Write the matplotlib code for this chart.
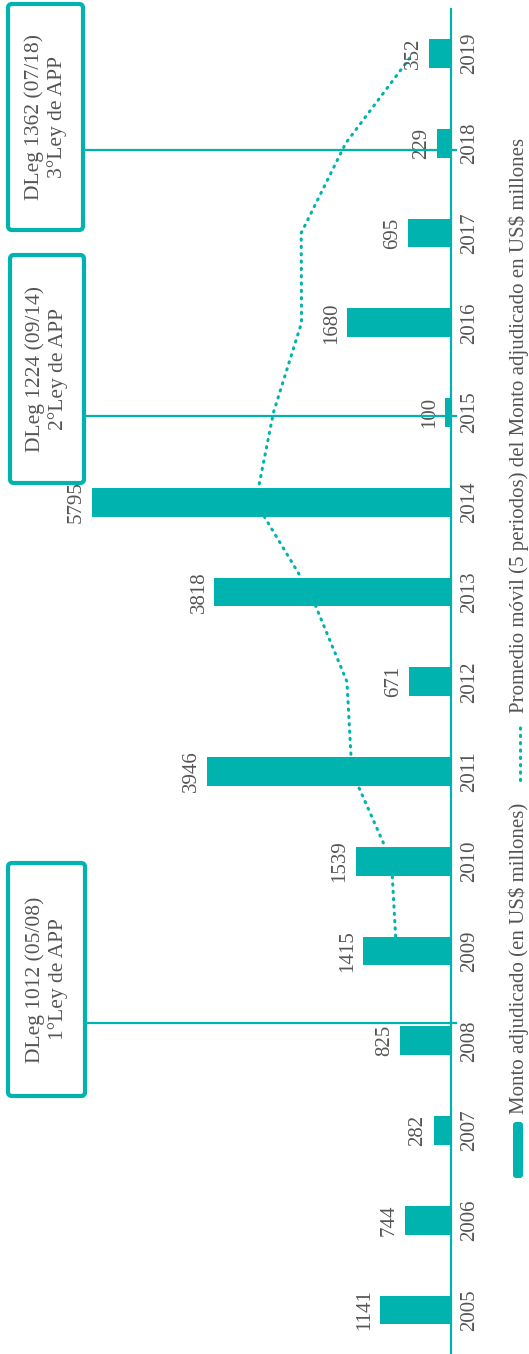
import matplotlib.pyplot as plt
from matplotlib.patches import FancyBboxPatch
from matplotlib.lines import Line2D
from matplotlib.transforms import IdentityTransform

# Data
years = list(range(2005, 2020))
monto = [1141, 744, 282, 825, 1415, 1539, 3946, 671, 3818, 5795, 100, 1680, 695, 229, 352]
ma_years = list(range(2009, 2020))
ma_values = [881, 961, 1601, 1679, 2278, 3154, 2866, 2413, 2418, 1700, 611]
hitos = ['DLeg 1012 (05/08)\n1°Ley de APP',
         'DLeg 1224 (09/14)\n2°Ley de APP',
         'DLeg 1362 (07/18)\n3°Ley de APP']
hito_year = [2008.2, 2014.96, 2017.92]

TEAL = '#00b3ae'
GREY = '#555555'
W, H = 529, 1354

plt.rcParams['font.family'] = ['Liberation Serif', 'DejaVu Serif']
plt.rcParams['font.size'] = 15

fig = plt.figure(figsize=(W / 100, H / 100), dpi=100)
# axis line sits at pixel x=451, top of axis at y=9
ax = fig.add_axes([0, 0, 451 / W, (H - 9) / H])

# bars (horizontal, growing to the left) and moving average
ax.plot(ma_values, ma_years, color=TEAL, lw=2.2, linestyle=(0, (0.4, 2.0)),
        dash_capstyle='round', zorder=2)
ax.barh(years, monto, height=0.32, color=TEAL, zorder=3)

ax.set_xlim(451 / 0.06195, 0)
ax.set_ylim(2004.51, 2019.496)
for s in ['top', 'left', 'bottom']:
    ax.spines[s].set_visible(False)
ax.spines['right'].set_color(TEAL)
ax.spines['right'].set_linewidth(1.6)
ax.set_xticks([])
ax.set_yticks([])

# year labels and value labels
for y, v in zip(years, monto):
    ax.annotate(str(y), (0, y), xytext=(19, 0), textcoords='offset pixels',
                rotation=90, ha='center', va='center', color=GREY,
                annotation_clip=False)
    ax.annotate(str(v), (v, y), xytext=(-6, 0), textcoords='offset pixels',
                rotation=90, ha='right', va='center', color=GREY,
                annotation_clip=False, zorder=4)

# milestone lines and boxes (box extents in pixels: left, top, right, bottom)
boxes = [(8, 863, 85, 1096), (10, 255, 84, 483), (8, 4, 83, 230)]
for txt, hy, (x0, y0, x1, y1) in zip(hitos, hito_year, boxes):
    ax.axhline(hy, xmin=x1 / 451, xmax=1.012, color=TEAL, lw=1.6,
               clip_on=False, zorder=5)
    box = FancyBboxPatch((x0, H - y1), x1 - x0, y1 - y0,
                         boxstyle='round,pad=0,rounding_size=4',
                         transform=IdentityTransform(), facecolor='white',
                         edgecolor=TEAL, lw=3)
    fig.add_artist(box)
    fig.text((x0 + x1) / 2 / W, 1 - (y0 + y1) / 2 / H, txt, rotation=90,
             ha='center', va='center', multialignment='center',
             linespacing=1.2, color=GREY, fontsize=15.5)

# legend
leg = FancyBboxPatch((513, H - 1178), 10, 56, boxstyle='round,pad=0,rounding_size=3',
                     transform=IdentityTransform(), facecolor=TEAL, edgecolor='none')
fig.add_artist(leg)
fig.text(519 / W, 1 - 1114 / H, 'Monto adjudicado (en US$ millones)', rotation=90,
         ha='center', va='bottom', color=GREY, fontsize=15)
fig.add_artist(Line2D([520 / W, 520 / W], [1 - 780 / H, 1 - 723 / H], color=TEAL,
                      lw=2.2, linestyle=(0, (0.4, 2.0)), dash_capstyle='round',
                      transform=fig.transFigure))
fig.text(519 / W, 1 - 713 / H,
         'Promedio móvil (5 periodos) del Monto adjudicado en US$ millones',
         rotation=90, ha='center', va='bottom', color=GREY, fontsize=15)

fig.savefig('out.png', dpi=100)
